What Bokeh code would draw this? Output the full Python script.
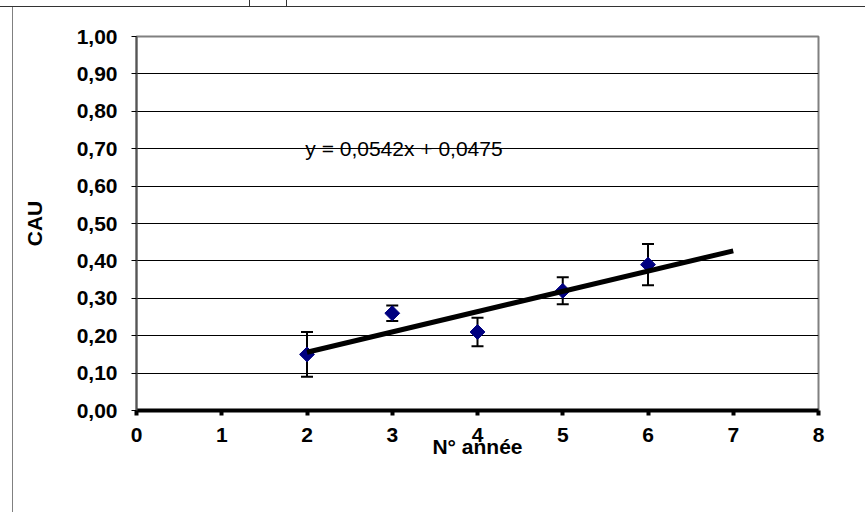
import math
from bokeh.plotting import figure
from bokeh.models import (ColumnDataSource, Whisker, TeeHead, FixedTicker,
                          CustomJSTickFormatter, Label, InlineStyleSheet)
from bokeh.embed import file_html
from bokeh.resources import INLINE

# ---- data ----
annee = [2, 3, 4, 5, 6]
cau = [0.15, 0.26, 0.21, 0.32, 0.39]
erreur = [0.06, 0.021, 0.038, 0.036, 0.055]
pente = 0.0542
ordonnee = 0.0475
trend_x = [2, 7]
y_ticks = [0.0, 0.1, 0.2, 0.3, 0.4, 0.5, 0.6, 0.7, 0.8, 0.9, 1.0]
x_ticks = [0, 1, 2, 3, 4, 5, 6, 7, 8]
equation = "y = 0,0542x + 0,0475"

FONT = "Liberation Sans"
FS = "21px"

p = figure(width=865, height=512, x_range=(0, 8), y_range=(0, 1),
           output_backend="svg", toolbar_location=None,
           min_border_left=136, min_border_right=47,
           min_border_top=36, min_border_bottom=102)
p.background_fill_color = "white"
p.border_fill_color = None
p.outline_line_color = "#808080"
p.outline_line_width = 2

# sheet lines around the chart (page background)
p.stylesheets = [InlineStyleSheet(css="""
:host {
  background-color: white;
  background-image: linear-gradient(#333333, #333333),
                    linear-gradient(#808080, #808080),
                    linear-gradient(#333333, #333333),
                    linear-gradient(#333333, #333333);
  background-size: 100% 1px, 1px 100%, 1px 6px, 1px 6px;
  background-position: 0px 6px, 12px 6px, 249px 0px, 286px 0px;
  background-repeat: no-repeat;
}
""")]

# grid
p.xgrid.visible = False
p.ygrid.ticker = FixedTicker(ticks=y_ticks)
p.ygrid.grid_line_color = "black"
p.ygrid.grid_line_width = 1

# y axis
ya = p.yaxis[0]
ya.ticker = FixedTicker(ticks=y_ticks)
ya.formatter = CustomJSTickFormatter(code="return tick.toFixed(2).replace('.', ',');")
ya.axis_line_color = "#555555"
ya.axis_line_width = 2
ya.major_tick_line_color = "black"
ya.major_tick_out = 5
ya.major_tick_in = 0
ya.minor_tick_line_color = None
ya.major_label_text_font = FONT
ya.major_label_text_font_style = "bold"
ya.major_label_text_font_size = FS
ya.major_label_text_color = "black"
ya.major_label_standoff = 14
ya.axis_label = "CAU"
ya.axis_label_text_font = FONT
ya.axis_label_text_font_style = "bold"
ya.axis_label_text_font_size = FS
ya.axis_label_text_color = "black"
ya.axis_label_standoff = 28

# x axis
xa = p.xaxis[0]
xa.ticker = FixedTicker(ticks=x_ticks)
xa.axis_line_color = "black"
xa.axis_line_width = 4
xa.major_tick_line_color = "black"
xa.major_tick_line_width = 4
xa.major_tick_out = 5
xa.major_tick_in = 0
xa.minor_tick_line_color = None
xa.major_label_text_font = FONT
xa.major_label_text_font_style = "bold"
xa.major_label_text_font_size = FS
xa.major_label_text_color = "black"
xa.major_label_standoff = 12
xa.axis_label = "N° année"
xa.axis_label_text_font = FONT
xa.axis_label_text_font_style = "bold"
xa.axis_label_text_font_size = FS
xa.axis_label_text_color = "black"
xa.axis_label_standoff = -10

# data
lower = [c - e for c, e in zip(cau, erreur)]
upper = [c + e for c, e in zip(cau, erreur)]
src = ColumnDataSource(dict(x=annee, y=cau, lower=lower, upper=upper))

w = Whisker(source=src, base="x", upper="upper", lower="lower",
            line_color="black", line_width=2,
            upper_head=TeeHead(size=12, line_color="black", line_width=2),
            lower_head=TeeHead(size=12, line_color="black", line_width=2))
p.add_layout(w)

p.scatter("x", "y", source=src, marker="square", size=10.5, angle=math.pi / 4,
          fill_color="#000080", line_color="#000080")

trend_y = [pente * x + ordonnee for x in trend_x]
p.line(trend_x, trend_y, line_color="black", line_width=5)

p.add_layout(Label(x=1.98, y=0.70, text=equation, text_font=FONT,
                   text_font_size=FS, text_color="black",
                   text_baseline="alphabetic"))

open("out.html", "w").write(file_html(p, INLINE))
